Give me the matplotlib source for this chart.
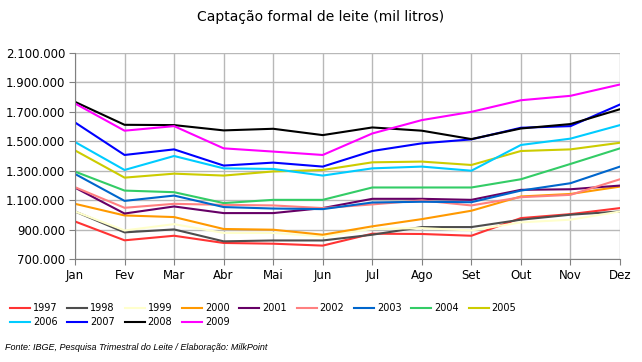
import matplotlib
matplotlib.use('Agg')
import matplotlib.pyplot as plt
from matplotlib.ticker import FuncFormatter

months = ['Jan', 'Fev', 'Mar', 'Abr', 'Mai', 'Jun', 'Jul', 'Ago', 'Set', 'Out', 'Nov', 'Dez']

y1997 = [955000, 827000, 858000, 809000, 804000, 791000, 872000, 870000, 858000, 978000, 1005000, 1046000]
y1998 = [1023000, 881000, 901000, 820000, 826000, 826000, 865000, 917000, 917000, 967000, 1001000, 1023000]
y1999 = [1023000, 894000, 937000, 877000, 877000, 854000, 904000, 910000, 894000, 949000, 967000, 1023000]
y2000 = [1075000, 996000, 985000, 904000, 899000, 865000, 922000, 971000, 1028000, 1125000, 1142000, 1192000]
y2001 = [1185000, 1009000, 1057000, 1012000, 1012000, 1046000, 1109000, 1109000, 1102000, 1170000, 1174000, 1199000]
y2002 = [1188000, 1048000, 1075000, 1068000, 1064000, 1046000, 1071000, 1098000, 1064000, 1120000, 1136000, 1242000]
y2003 = [1278000, 1095000, 1131000, 1053000, 1043000, 1039000, 1084000, 1089000, 1086000, 1165000, 1215000, 1328000]
y2004 = [1294000, 1165000, 1154000, 1080000, 1102000, 1102000, 1186000, 1186000, 1186000, 1242000, 1346000, 1452000]
y2005 = [1438000, 1253000, 1280000, 1267000, 1295000, 1305000, 1357000, 1362000, 1339000, 1434000, 1445000, 1490000]
y2006 = [1495000, 1305000, 1400000, 1316000, 1312000, 1267000, 1316000, 1328000, 1300000, 1475000, 1518000, 1610000]
y2007 = [1628000, 1407000, 1445000, 1335000, 1355000, 1328000, 1434000, 1486000, 1513000, 1592000, 1603000, 1750000]
y2008 = [1768000, 1612000, 1610000, 1574000, 1585000, 1542000, 1594000, 1572000, 1515000, 1587000, 1617000, 1718000]
y2009 = [1757000, 1572000, 1603000, 1452000, 1430000, 1407000, 1553000, 1644000, 1700000, 1779000, 1809000, 1886000]

years = ['1997', '1998', '1999', '2000', '2001', '2002', '2003',
         '2004', '2005', '2006', '2007', '2008', '2009']
series = [y1997, y1998, y1999, y2000, y2001, y2002, y2003,
          y2004, y2005, y2006, y2007, y2008, y2009]
colors = ['#FF3333', '#4D4D4D', '#FFFFCC', '#FF9900', '#660066', '#FF8080', '#0066CC',
          '#33CC66', '#CCCC00', '#00CCFF', '#0000FF', '#000000', '#FF00FF']

fig = plt.figure(figsize=(6.42, 3.62), dpi=100)
ax = fig.add_axes([75 / 642, 1 - 259 / 362, 545 / 642, 206 / 362])

x = range(len(months))
for yr, vals, c in zip(years, series, colors):
    ax.plot(x, vals, color=c, lw=1.5, label=yr)

ax.set_xlim(0, 11)
ax.set_ylim(700000, 2100000)
ax.set_yticks(range(700000, 2100001, 200000))
ax.yaxis.set_major_formatter(FuncFormatter(lambda v, p: '{:,.0f}'.format(v).replace(',', '.')))
ax.set_xticks(list(x))
ax.set_xticklabels(months)
ax.tick_params(labelsize=8.5, color='#808080', length=4, pad=3)
ax.grid(True, color='#B8B8B8', lw=1)
ax.set_axisbelow(True)
for s in ['top', 'right']:
    ax.spines[s].set_visible(False)
for s in ['left', 'bottom']:
    ax.spines[s].set_color('#808080')

fig.text(0.5, 1 - 17 / 362, 'Captação formal de leite (mil litros)', ha='center', va='center', fontsize=10)

# legend laid out row by row: 9 on the first row, 4 on the second
handles, labels = ax.get_legend_handles_labels()
ncol = 9
order = []
for j in range(ncol):
    order.append(j)
    if j + ncol < len(handles):
        order.append(j + ncol)
fig.legend([handles[i] for i in order], [labels[i] for i in order], ncol=ncol,
           loc='upper left', bbox_to_anchor=(10 / 642, 1 - 303 / 362),
           frameon=False, fontsize=7, handlelength=2.06, handletextpad=0.3,
           columnspacing=1.0, labelspacing=0.45, borderaxespad=0, borderpad=0)

fig.text(5 / 642, 1 - 347 / 362, 'Fonte: IBGE, Pesquisa Trimestral do Leite / Elaboração: MilkPoint',
         ha='left', va='center', fontsize=6.5, style='italic', family='Liberation Sans')

fig.savefig('out.png', dpi=100)
